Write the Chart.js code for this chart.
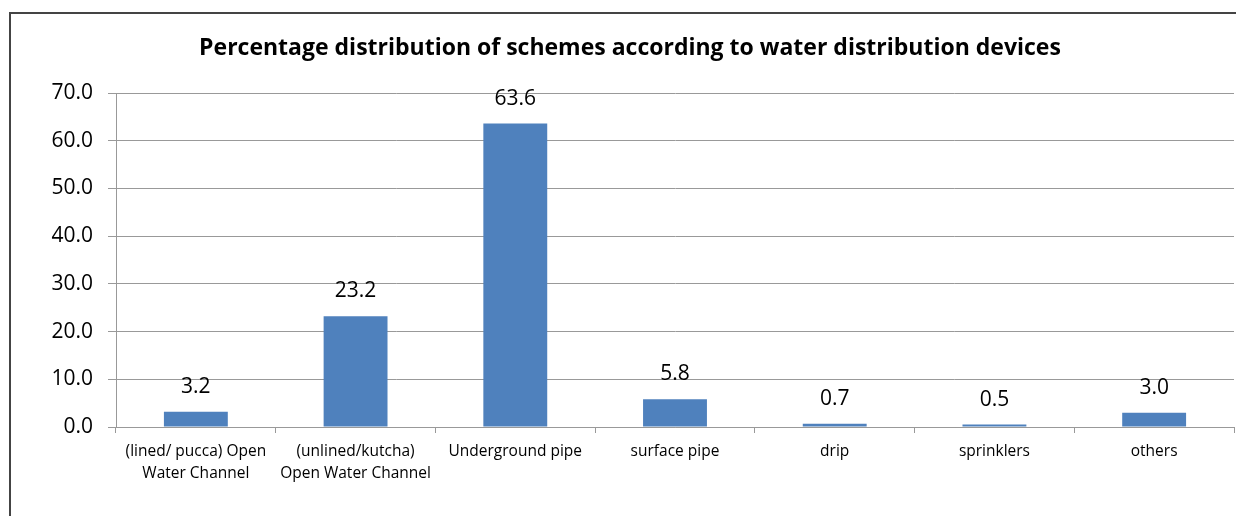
<!DOCTYPE html>
<html>
<head>
<meta charset="utf-8">
<script src="https://cdn.jsdelivr.net/npm/chart.js@4/dist/chart.umd.min.js"></script>
<style>
  body { margin: 0; background: #fff; }
  #wrap { position: relative; width: 1236px; height: 516px; overflow: hidden; }
  #frame { position: absolute; left: 9px; top: 12px; width: 1300px; height: 600px;
           border-left: 2px solid #444; border-top: 2px solid #444; }
  canvas { position: absolute; left: 0; top: 0; }
</style>
</head>
<body>
<div id="wrap">
  <div id="frame"></div>
  <canvas id="chart" width="1236" height="516"></canvas>
</div>
<script>
// datos del grafico
const categories = [
    ['(lined/ pucca) Open', 'Water Channel'],
    ['(unlined/kutcha)', 'Open Water Channel'],
    'Underground pipe',
    'surface pipe',
    'drip',
    'sprinklers',
    'others'
];
const percentages = [3.2, 23.2, 63.6, 5.8, 0.7, 0.5, 3.0];
const titleText = 'Percentage distribution of schemes according to water distribution devices';

const FONT = "'Open Sans', 'Noto Sans', sans-serif";

// Titulo dibujado a mano
const titlePlugin = {
    id: 'titleDraw',
    afterDraw(chart) {
        const ctx = chart.ctx;
        ctx.save();
        ctx.font = 'bold 23px ' + FONT;
        ctx.fillStyle = '#000';
        ctx.textAlign = 'center';
        ctx.textBaseline = 'middle';
        ctx.fillText(titleText, 630, 48);
        ctx.restore();
    }
};

// Etiquetas de valores encima de las barras
const valueLabels = {
    id: 'valueLabels',
    afterDatasetsDraw(chart) {
        const ctx = chart.ctx;
        const meta = chart.getDatasetMeta(0);
        ctx.save();
        ctx.font = '21px ' + FONT;
        ctx.fillStyle = '#000';
        ctx.textAlign = 'center';
        ctx.textBaseline = 'middle';
        meta.data.forEach((bar, i) => {
            ctx.fillText(percentages[i].toFixed(1), bar.x, bar.y - 25);
        });
        ctx.restore();
    }
};

const ctx = document.getElementById('chart').getContext('2d');

const chart = new Chart(ctx, {
    type: 'bar',
    data: {
        labels: categories,
        datasets: [{
            data: percentages,
            backgroundColor: '#4f81bd',
            borderWidth: 0,
            categoryPercentage: 1,
            barPercentage: 0.4
        }]
    },
    options: {
        responsive: false,
        animation: false,
        layout: { padding: { top: 93, right: 2, left: 0, bottom: 0 } },
        plugins: {
            legend: { display: false },
            tooltip: { enabled: false }
        },
        scales: {
            x: {
                afterFit(scale) { scale.height = 89; },
                grid: { drawOnChartArea: false, drawTicks: true, tickLength: 6, color: '#999', offset: true },
                border: { color: '#999' },
                ticks: { color: '#000', font: { family: FONT, size: 15.5, lineHeight: 1.45 }, padding: 7, maxRotation: 0, autoSkip: false }
            },
            y: {
                min: 0,
                max: 70,
                afterFit(scale) { scale.width = 116; },
                grid: { color: '#999', tickLength: 8 },
                border: { color: '#999' },
                ticks: {
                    stepSize: 10,
                    color: '#000',
                    padding: 15,
                    font: { family: FONT, size: 21 },
                    callback: v => v.toFixed(1)
                }
            }
        }
    },
    plugins: [titlePlugin, valueLabels]
});
</script>
</body>
</html>
